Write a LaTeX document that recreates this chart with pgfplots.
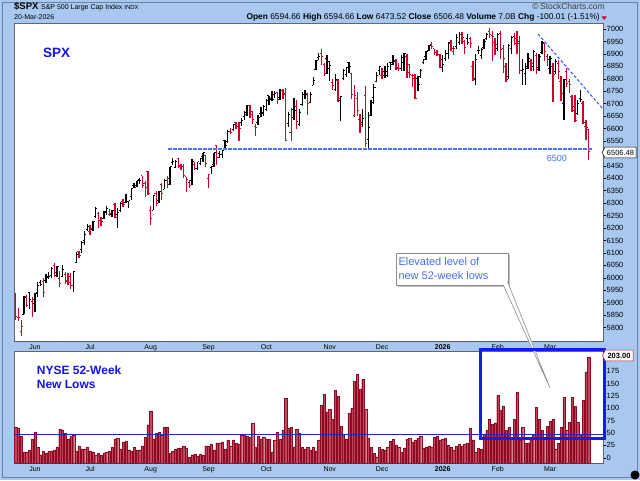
\documentclass[border=0pt]{standalone}
\usepackage{pgfplots}
\pgfplotsset{compat=1.18}
\usepackage{pgfplotstable}
\usepackage{fontspec}
\setmainfont{Liberation Sans}

\definecolor{bgblue}{RGB}{168,200,240}
\definecolor{framegray}{RGB}{110,130,160}
\definecolor{redc}{RGB}{204,0,40}
\definecolor{lowfill}{RGB}{192,72,88}
\definecolor{lowdraw}{RGB}{140,10,35}
\definecolor{lblblue}{RGB}{20,20,240}
\definecolor{annblue}{RGB}{70,110,240}
\definecolor{dashblue}{RGB}{40,90,255}
\definecolor{hdashblue}{RGB}{70,115,255}
\definecolor{boxblue}{RGB}{15,30,235}
\definecolor{hlineblue}{RGB}{30,40,190}

\pgfdeclareplotmark{otick}{\pgfpathmoveto{\pgfqpoint{-\pgfplotmarksize}{0pt}}\pgfpathlineto{\pgfqpoint{0pt}{0pt}}\pgfusepathqstroke}
\pgfdeclareplotmark{ctick}{\pgfpathmoveto{\pgfqpoint{0pt}{0pt}}\pgfpathlineto{\pgfqpoint{\pgfplotmarksize}{0pt}}\pgfusepathqstroke}

\pgfplotstableread{
i o h l c d
0 5928 5938 5830 5845 0
1 5841 5878 5825 5842 0
2 5782 5829 5767 5803 0
3 5854 5925 5854 5922 1
4 5926 5931 5884 5889 0
5 5939 5944 5874 5912 1
6 5904 5922 5843 5911 0
7 5897 5939 5862 5936 1
8 5939 5981 5922 5970 1
9 5979 5991 5966 5971 1
10 5985 5999 5921 5939 0
11 5988 6016 5978 6000 1
12 6004 6022 5994 6006 1
13 6010 6044 6000 6039 1
14 6050 6059 6003 6022 0
15 6010 6046 6003 6045 1
16 5997 6026 5964 5977 0
17 6005 6051 6005 6033 1
18 6013 6023 5974 5983 0
19 5987 6018 5971 5981 0
20 6004 6019 5953 5968 0
21 5970 6026 5944 6025 1
22 6061 6102 6058 6092 1
23 6104 6109 6081 6091 0
24 6112 6146 6100 6141 1
25 6151 6187 6133 6173 1
26 6194 6216 6189 6205 1
27 6187 6211 6172 6198 0
28 6194 6227 6188 6227 1
29 6247 6284 6241 6279 1
30 6260 6264 6201 6230 0
31 6232 6243 6210 6226 0
32 6239 6269 6237 6263 1
33 6266 6290 6251 6280 1
34 6256 6275 6247 6260 0
35 6256 6271 6245 6269 1
36 6295 6302 6243 6244 0
37 6253 6280 6201 6264 1
38 6269 6304 6263 6297 1
39 6305 6316 6286 6296 0
40 6304 6336 6303 6306 1
41 6307 6310 6282 6310 1
42 6326 6359 6312 6359 1
43 6369 6381 6360 6363 1
44 6370 6390 6364 6389 1
45 6397 6401 6375 6390 1
46 6410 6410 6361 6371 0
47 6378 6390 6326 6363 0
48 6428 6428 6331 6339 0
49 6271 6288 6212 6238 0
50 6272 6330 6272 6330 1
51 6337 6347 6290 6299 0
52 6310 6350 6300 6345 1
53 6376 6379 6313 6340 0
54 6355 6395 6355 6389 1
55 6390 6409 6362 6373 0
56 6398 6446 6373 6446 1
57 6462 6481 6452 6467 1
58 6445 6474 6441 6469 1
59 6479 6481 6443 6450 0
60 6446 6457 6435 6449 0
61 6446 6457 6400 6411 0
62 6406 6407 6343 6396 0
63 6383 6394 6360 6370 0
64 6389 6479 6374 6467 1
65 6457 6467 6438 6439 0
66 6438 6466 6433 6466 1
67 6458 6482 6452 6481 1
68 6487 6503 6466 6502 1
69 6493 6493 6445 6460 0
70 6401 6416 6361 6416 0
71 6443 6450 6419 6448 1
72 6456 6502 6444 6502 1
73 6530 6533 6453 6482 0
74 6498 6508 6482 6495 1
75 6497 6513 6483 6513 1
76 6553 6555 6514 6532 1
77 6548 6592 6542 6587 1
78 6588 6601 6578 6584 0
79 6595 6616 6590 6615 1
80 6624 6627 6597 6607 0
81 6609 6625 6551 6600 0
82 6625 6641 6610 6632 1
83 6647 6671 6634 6664 1
84 6656 6694 6650 6694 1
85 6692 6693 6642 6657 0
86 6669 6670 6619 6638 0
87 6609 6620 6570 6605 0
88 6624 6653 6613 6644 1
89 6662 6685 6648 6661 1
90 6665 6693 6649 6688 1
91 6675 6718 6669 6711 1
92 6731 6732 6695 6715 1
93 6722 6751 6710 6716 1
94 6735 6749 6724 6740 1
95 6743 6748 6700 6715 0
96 6724 6757 6716 6754 1
97 6753 6757 6719 6735 0
98 6741 6762 6551 6553 0
99 6621 6665 6606 6655 1
100 6583 6681 6551 6644 0
101 6677 6723 6635 6671 1
102 6687 6715 6600 6629 0
103 6616 6678 6609 6664 1
104 6697 6745 6690 6735 1
105 6736 6753 6719 6735 1
106 6740 6744 6653 6699 0
107 6704 6748 6702 6738 1
108 6774 6807 6773 6792 1
109 6838 6876 6837 6875 1
110 6884 6902 6876 6891 1
111 6900 6920 6856 6890 0
112 6857 6865 6812 6822 0
113 6882 6894 6820 6840 1
114 6868 6871 6789 6852 1
115 6785 6797 6755 6772 0
116 6758 6820 6750 6796 1
117 6792 6800 6708 6720 0
118 6714 6729 6631 6729 1
119 6800 6838 6795 6832 1
120 6816 6849 6807 6847 1
121 6866 6869 6822 6851 1
122 6823 6825 6720 6737 0
123 6654 6775 6647 6734 0
124 6720 6745 6651 6672 0
125 6638 6660 6580 6617 0
126 6623 6680 6608 6642 1
127 6731 6770 6525 6539 0
128 6556 6666 6522 6603 1
129 6654 6715 6650 6705 1
130 6725 6777 6697 6766 1
131 6789 6827 6786 6813 1
132 6833 6849 6816 6849 1
133 6812 6844 6800 6813 0
134 6830 6851 6804 6829 1
135 6815 6862 6808 6850 1
136 6867 6868 6837 6857 1
137 6867 6895 6857 6870 1
138 6875 6879 6836 6847 0
139 6840 6864 6831 6841 0
140 6841 6894 6830 6887 1
141 6864 6904 6832 6901 1
142 6889 6898 6802 6827 0
143 6856 6856 6801 6817 0
144 6813 6818 6767 6800 0
145 6812 6818 6720 6721 0
146 6799 6810 6751 6775 1
147 6808 6840 6801 6835 1
148 6865 6880 6858 6878 1
149 6888 6910 6876 6910 1
150 6915 6937 6912 6932 1
151 6936 6946 6920 6930 0
152 6920 6920 6894 6906 0
153 6907 6916 6893 6896 0
154 6897 6899 6845 6846 0
155 6878 6894 6828 6858 1
156 6880 6915 6870 6902 1
157 6903 6946 6880 6944 1
158 6940 6955 6910 6921 0
159 6910 6930 6895 6920 0
160 6930 6978 6920 6966 1
161 6945 6986 6935 6977 1
162 6978 6986 6940 6964 0
163 6950 6955 6900 6927 0
164 6960 6980 6935 6944 1
165 6960 6967 6925 6940 0
166 6850 6870 6790 6797 0
167 6800 6900 6775 6876 1
168 6915 6933 6900 6913 1
169 6895 6925 6880 6916 1
170 6925 6960 6920 6950 1
171 6960 6985 6955 6979 1
172 6990 7002 6965 6978 0
173 6975 6990 6871 6969 0
174 6945 6965 6895 6939 0
175 6920 6985 6910 6976 1
176 6980 6992 6880 6917 0
177 6920 6935 6825 6883 0
178 6850 6865 6785 6798 0
179 6810 6940 6800 6932 1
180 6920 6970 6900 6964 1
181 6970 6985 6935 6942 0
182 6960 6990 6900 6941 0
183 6950 6970 6820 6833 0
184 6835 6880 6775 6836 1
185 6820 6865 6775 6843 1
186 6850 6905 6840 6881 1
187 6870 6880 6830 6861 0
188 6850 6915 6830 6909 1
189 6895 6905 6820 6837 0
190 6845 6900 6830 6890 1
191 6905 6952 6900 6946 1
192 6940 6945 6870 6908 0
193 6890 6900 6850 6879 0
194 6840 6890 6820 6881 1
195 6850 6862 6708 6816 0
196 6830 6880 6820 6869 1
197 6860 6875 6800 6830 0
198 6790 6810 6710 6740 0
199 6700 6800 6634 6795 1
200 6830 6845 6768 6781 0
201 6790 6797 6742 6775 0
202 6730 6735 6668 6672 0
203 6690 6735 6627 6632 0
204 6660 6715 6655 6699 1
205 6720 6755 6705 6716 1
206 6700 6712 6620 6624 0
207 6610 6634 6554 6606 0
208 6595 6595 6474 6506 0
}\spx

\pgfplotstableread{
i v
0 62
1 59
2 44
3 12
4 12
5 16
6 38
7 51
8 21
9 6
10 14
11 9
12 13
13 14
14 16
15 22
16 58
17 55
18 49
19 37
20 43
21 46
22 13
23 24
24 18
25 18
26 22
27 14
28 12
29 5
30 9
31 5
32 10
33 11
34 14
35 21
36 38
37 39
38 18
39 32
40 34
41 16
42 14
43 21
44 16
45 16
46 24
47 41
48 67
49 95
50 38
51 49
52 52
53 45
54 61
55 61
56 9
57 13
58 17
59 20
60 20
61 24
62 20
63 1
64 6
65 8
66 3
67 7
68 5
69 24
70 24
71 27
72 16
73 30
74 30
75 32
76 17
77 35
78 24
79 36
80 29
81 27
82 46
83 46
84 43
85 41
86 70
87 22
88 43
89 37
90 41
91 37
92 37
93 12
94 35
95 51
96 37
97 56
98 120
99 60
100 62
101 22
102 58
103 49
104 21
105 18
106 21
107 16
108 21
109 14
110 36
111 107
112 129
113 93
114 98
115 78
116 137
117 125
118 64
119 47
120 38
121 90
122 100
123 155
124 169
125 139
126 159
127 98
128 39
129 21
130 9
131 2
132 21
133 17
134 16
135 22
136 33
137 37
138 26
139 22
140 12
141 20
142 37
143 39
144 32
145 36
146 39
147 44
148 19
149 21
150 24
151 22
152 41
153 43
154 35
155 37
156 39
157 26
158 21
159 16
160 24
161 27
162 24
163 28
164 30
165 60
166 36
167 11
168 19
169 17
170 48
171 55
172 78
173 68
174 71
175 126
176 97
177 105
178 55
179 61
180 38
181 78
182 132
183 36
184 62
185 30
186 30
187 35
188 46
189 102
190 78
191 56
192 41
193 64
194 74
195 78
196 18
197 29
198 62
199 122
200 55
201 72
202 122
203 104
204 72
205 48
206 117
207 174
208 203
}\lows

\pgfplotsset{
  chartbase/.style={
    scale only axis, anchor=south west,
    xmin=-0.62, xmax=213.2,
    axis background/.style={fill=white},
    axis line style={draw=black!60, line width=0.5pt},
    tick align=outside, major tick length=2.5pt,
    tick style={black, line width=0.4pt},
    ytick pos=right, yticklabel pos=right,
    xtick pos=bottom,
    xtick={7,27,49,70,91,114,133,155,175,194},
    xticklabels={Jun,Jul,Aug,Sep,Oct,Nov,Dec,\textbf{2026},Feb,Mar},
    major x tick style={draw=none},
    xticklabel style={font=\fontsize{7}{8}\selectfont, inner sep=1pt},
    yticklabel style={font=\fontsize{7.5}{8}\selectfont, inner sep=1pt},
    /pgf/number format/assume math mode=true,
    /pgf/number format/1000 sep={},
  }
}

\begin{document}
\begin{tikzpicture}[x=1pt,y=1pt]
\useasboundingbox (0,0) rectangle (640,480);
\fill[bgblue] (0,0) rectangle (640,480);
\draw[framegray, line width=0.8pt] (2.5,2.5) rectangle (637.5,477.5);

% ---------- price panel ----------
\begin{axis}[chartbase,
  at={(14pt,139pt)}, width=589pt, height=318pt,
  ymin=5745.8, ymax=7024.1,
  ytick={5800,5850,...,6450,6550,6600,...,7000},
]
\addplot[draw=none, mark=none, forget plot,
  restrict expr to domain={\thisrow{d}}{0.5:1.5},
  error bars/.cd, y dir=both, y explicit, error mark=none,
  error bar style={line width=1.35pt, black}]
  table[x=i, y=c, y error plus expr=\thisrow{h}-\thisrow{c}, y error minus expr=\thisrow{c}-\thisrow{l}] {\spx};
\addplot[draw=none, mark=none, forget plot,
  restrict expr to domain={\thisrow{d}}{-0.5:0.5},
  error bars/.cd, y dir=both, y explicit, error mark=none,
  error bar style={line width=1.35pt, redc}]
  table[x=i, y=c, y error plus expr=\thisrow{h}-\thisrow{c}, y error minus expr=\thisrow{c}-\thisrow{l}] {\spx};
\addplot[black, only marks, mark=otick, mark size=1.7pt, mark options={line width=1pt},
  restrict expr to domain={\thisrow{d}}{0.5:1.5}] table[x=i, y=o] {\spx};
\addplot[black, only marks, mark=ctick, mark size=1.7pt, mark options={line width=1pt},
  restrict expr to domain={\thisrow{d}}{0.5:1.5}] table[x=i, y=c] {\spx};
\addplot[redc, only marks, mark=otick, mark size=1.7pt, mark options={line width=1pt},
  restrict expr to domain={\thisrow{d}}{-0.5:0.5}] table[x=i, y=o] {\spx};
\addplot[redc, only marks, mark=ctick, mark size=1.7pt, mark options={line width=1pt},
  restrict expr to domain={\thisrow{d}}{-0.5:0.5}] table[x=i, y=c] {\spx};
\end{axis}

% ---------- new lows panel ----------
\begin{axis}[chartbase,
  at={(14pt,17pt)}, width=589pt, height=111.5pt,
  y coord trafo/.code={\pgfmathparse{#1+10.75}},
  y coord inv trafo/.code={\pgfmathparse{#1-10.75}},
  ymin=-10.75, ymax=215.4,
  ytick={0,25,...,175},
]
\addplot[ybar, bar width=2.2pt, fill=lowfill, draw=lowdraw, line width=0.3pt] table[x=i, y=v] {\lows};
\draw[hlineblue, line width=0.7pt] (axis cs:-0.62,47.4) -- (axis cs:213.2,47.4);
\end{axis}

% dotted bottoms of panels
\draw[black!70, dotted, line width=0.6pt] (14,139) -- (603,139);
\draw[black!70, dotted, line width=0.6pt] (14,17) -- (603,17);

% ---------- header ----------
\node[anchor=base west, inner sep=0] at (14,470) {\fontsize{9.5}{10}\selectfont\bfseries \$SPX\ \fontsize{7}{8}\selectfont\mdseries S\&P 500 Large Cap Index\ \fontsize{6}{7}\selectfont INDX};
\node[anchor=base west, inner sep=0] at (14,460.5) {\fontsize{7}{8}\selectfont 20-Mar-2026};
\node[anchor=base east, inner sep=0, text=black!75] at (605,470) {\fontsize{8.5}{9}\selectfont \textcopyright\,StockCharts.com};
\node[anchor=base east, inner sep=0] at (600,460.5) {\fontsize{8.4}{9}\selectfont \textbf{Open} 6594.66 \textbf{High} 6594.66 \textbf{Low} 6473.52 \textbf{Close} 6506.48 \textbf{Volume} 7.0B \textbf{Chg} -100.01 (-1.51\%)};
\fill[redc] (601.7,463.5) -- (606.7,463.5) -- (604.2,460) -- cycle;

% ---------- panel labels ----------
\node[anchor=base west, inner sep=0, text=lblblue] at (43,422.7) {\fontsize{13.5}{14}\selectfont\bfseries SPX};
\node[anchor=base west, inner sep=0, text=lblblue] at (36.7,105.7) {\fontsize{12}{13}\selectfont\bfseries NYSE 52-Week};
\node[anchor=base west, inner sep=0, text=lblblue] at (36.7,91.7) {\fontsize{12}{13}\selectfont\bfseries New Lows};

% ---------- trend lines ----------
\draw[dashblue, dash pattern=on 3pt off 2pt, line width=1pt] (538,446) -- (603,371);
\draw[hdashblue, dash pattern=on 3.5pt off 1.5pt, line width=1.6pt] (168,331) -- (592,331);
\node[anchor=base west, inner sep=0, text=annblue] at (546.7,318.3) {\fontsize{9}{10}\selectfont 6500};

% ---------- callout ----------
\fill[black!25] (398,193) rectangle (510,225);
\draw[black!45, line width=0.7pt, fill=white] (396,195) rectangle (508,226.7);
\draw[black!45, line width=0.6pt, fill=white] (503,195.6) -- (550,92) -- (507.4,198.5);
\node[anchor=base west, inner sep=0, text=annblue] at (398.3,214.3) {\fontsize{11}{12}\selectfont Elevated level of};
\node[anchor=base west, inner sep=0, text=annblue] at (398.3,200.3) {\fontsize{11}{12}\selectfont new 52-week lows};

% ---------- blue box ----------
\draw[boxblue, line width=2.8pt] (480.3,41.3) rectangle (604.3,130.7);

% ---------- price tags ----------
\draw[black, line width=0.5pt, fill=white] (602,327.5) -- (605,332.8) -- (636,332.8) -- (636,322.2) -- (605,322.2) -- cycle;
\node[inner sep=0] at (620.5,327.5) {\fontsize{7.5}{8}\selectfont 6506.48};
\draw[redc, line width=0.5pt, fill=white] (602.5,124.5) -- (605,129.8) -- (633,129.8) -- (633,119.2) -- (605,119.2) -- cycle;
\node[inner sep=0] at (619,124.5) {\fontsize{7.5}{8}\selectfont\bfseries 203.00};

% ---------- corner dot ----------
\fill[black] (635,5) circle (4.5);
\end{tikzpicture}
\end{document}
